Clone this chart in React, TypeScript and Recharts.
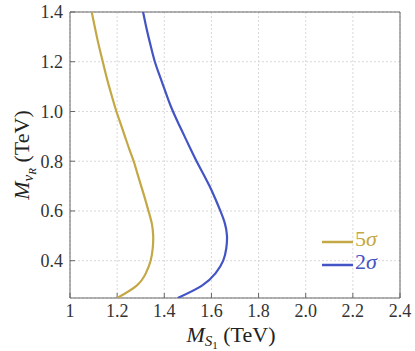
import React from 'react';
import {
  ScatterChart,
  Scatter,
  XAxis,
  YAxis,
  CartesianGrid,
  Legend,
  Label,
} from 'recharts';

// M_nuR values (TeV) along each contour
const massNuR = [
  0.25, 0.3, 0.35, 0.4, 0.45, 0.5, 0.55, 0.6, 0.65, 0.7, 0.75, 0.8,
  0.85, 0.9, 0.95, 1.0, 1.05, 1.1, 1.15, 1.2, 1.25, 1.3, 1.35, 1.4,
];
// M_S1 values (TeV) for each significance contour
const ms1FiveSigma = [
  1.2, 1.283, 1.322, 1.342, 1.351, 1.353, 1.347, 1.333, 1.318, 1.302, 1.286, 1.27,
  1.251, 1.233, 1.215, 1.197, 1.181, 1.166, 1.152, 1.139, 1.126, 1.114, 1.103, 1.092,
];
const ms1TwoSigma = [
  1.457, 1.56, 1.618, 1.65, 1.663, 1.666, 1.657, 1.638, 1.616, 1.592, 1.565, 1.537,
  1.511, 1.486, 1.461, 1.437, 1.416, 1.397, 1.378, 1.36, 1.346, 1.333, 1.321, 1.31,
];

const xTicks = [1, 1.2, 1.4, 1.6, 1.8, 2.0, 2.2, 2.4];
const yTicks = [0.4, 0.6, 0.8, 1.0, 1.2, 1.4];
const xTickLabels = ['1', '1.2', '1.4', '1.6', '1.8', '2.0', '2.2', '2.4'];

const GOLD = '#c3a845';
const BLUE = '#4354c4';
const FONT = '"Liberation Serif", "Times New Roman", serif';

const fiveSigma = massNuR.map((m, i) => ({ x: ms1FiveSigma[i], y: m }));
const twoSigma = massNuR.map((m, i) => ({ x: ms1TwoSigma[i], y: m }));

const series = [
  { name: '5', data: fiveSigma, color: GOLD },
  { name: '2', data: twoSigma, color: BLUE },
];

const tickStyle = { fontSize: 18, fill: '#333', fontFamily: FONT };

const XTitle = (props: any) => {
  const vb = props.viewBox;
  return (
    <text x={vb.x + vb.width / 2 - 4} y={342} textAnchor="middle" fontFamily={FONT} fontSize={22} fill="#222">
      <tspan fontStyle="italic">M</tspan>
      <tspan fontStyle="italic" fontSize={15} dy={4}>S</tspan>
      <tspan fontSize={11} dy={3}>1</tspan>
      <tspan dy={-7}> (TeV)</tspan>
    </text>
  );
};

const YTitle = () => {
  const cy = 155;
  const cx = 29;
  return (
    <text
      x={cx}
      y={cy}
      transform={`rotate(-90, ${cx}, ${cy})`}
      textAnchor="middle"
      fontFamily={FONT}
      fontSize={22}
      fill="#222"
    >
      <tspan fontStyle="italic">M</tspan>
      <tspan fontStyle="italic" fontSize={15} dy={4}>ν</tspan>
      <tspan fontStyle="italic" fontSize={11} dy={3}>R</tspan>
      <tspan dy={-7}> (TeV)</tspan>
    </text>
  );
};

const renderLegend = () => (
  <svg width={80} height={50}>
    {series.map((s, i) => (
      <g key={s.name}>
        <line x1={4} x2={35} y1={17 + i * 23} y2={17 + i * 23} stroke={s.color} strokeWidth={2.5} />
        <text x={37} y={21 + i * 23} fontFamily={FONT} fontSize={22} fill={s.color}>
          {s.name}
          <tspan fontStyle="italic">σ</tspan>
        </text>
      </g>
    ))}
  </svg>
);

export default function App() {
  return (
    <div style={{ position: 'absolute', left: 0, top: 0, width: 415, height: 351, background: '#fff' }}>
      <ScatterChart width={415} height={351} margin={{ top: 0, right: 0, bottom: 0, left: 0 }}>
        <CartesianGrid stroke="#d8d8d8" strokeDasharray="2 2" />
        <XAxis
          xAxisId={0}
          type="number"
          dataKey="x"
          domain={[1, 2.4]}
          ticks={xTicks}
          tickFormatter={(v: number) => xTickLabels[xTicks.indexOf(v)] ?? String(v)}
          height={53}
          tickSize={-5}
          tickMargin={11}
          tick={tickStyle}
          stroke="#666"
          allowDataOverflow
        >
          <Label content={<XTitle />} />
        </XAxis>
        <XAxis
          xAxisId="top"
          orientation="top"
          type="number"
          domain={[1, 2.4]}
          ticks={xTicks}
          tickFormatter={() => ''}
          height={12}
          tickSize={-5}
          stroke="#666"
        />
        <YAxis
          yAxisId={0}
          type="number"
          dataKey="y"
          domain={[0.25, 1.4]}
          ticks={yTicks}
          tickFormatter={(v: number) => v.toFixed(1)}
          width={70}
          tickSize={-5}
          tickMargin={12}
          tick={tickStyle}
          stroke="#666"
          allowDataOverflow
        >
          <Label content={<YTitle />} />
        </YAxis>
        <YAxis
          yAxisId="right"
          orientation="right"
          type="number"
          domain={[0.25, 1.4]}
          ticks={yTicks}
          tickFormatter={() => ''}
          width={15}
          tickSize={-5}
          stroke="#666"
        />
        {series.map((s) => (
          <Scatter
            key={s.name}
            name={s.name}
            data={s.data}
            xAxisId={0}
            yAxisId={0}
            line={{ stroke: s.color, strokeWidth: 2.2 }}
            lineJointType="natural"
            shape={() => <g />}
            isAnimationActive={false}
          />
        ))}
        <Legend
          layout="vertical"
          align="center"
          verticalAlign="middle"
          content={renderLegend}
          wrapperStyle={{ left: 318, top: 225, width: 80, height: 50 }}
        />
      </ScatterChart>
    </div>
  );
}
